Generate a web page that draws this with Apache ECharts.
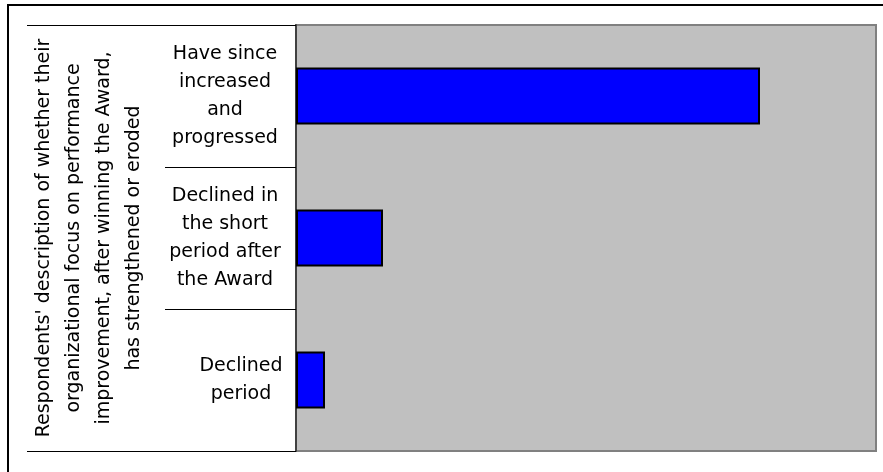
<!DOCTYPE html>
<html>
<head>
<meta charset="utf-8">
<script src="https://cdn.jsdelivr.net/npm/echarts@6/dist/echarts.min.js"></script>
<style>
  html, body { margin: 0; padding: 0; background: #fff; }
  #chart { width: 883px; height: 472px; }
</style>
</head>
<body>
<div id="chart"></div>
<script>
// categories (top to bottom) and bar values
const categories = [
  'Have since\nincreased\nand\nprogressed',
  'Declined in\nthe short\nperiod after\nthe Award',
  'Declined\nperiod'
];
const values = [80, 15, 5];
const axisTitle = "Respondents' description of whether their\norganizational focus on performance\nimprovement, after winning the Award,\nhas strengthened or eroded";

const FONT = 'DejaVu Sans';

const myChart = echarts.init(document.getElementById('chart'));

const labelStyle = {
  align: 'center',
  color: '#000',
  fontFamily: FONT,
  fontSize: 19,
  lineHeight: 28
};

const option = {
  animation: false,
  backgroundColor: '#fff',
  textStyle: { fontFamily: FONT },
  // outer chart frame
  graphic: [{
    type: 'rect',
    z: -10,
    shape: { x: 8, y: 5, width: 900, height: 500 },
    style: { fill: 'none', stroke: '#000', lineWidth: 2 }
  }],
  grid: {
    left: 296,
    right: 7,
    top: 25,
    bottom: 21,
    outerBoundsMode: 'none',
    containLabel: false,
    show: true,
    backgroundColor: '#C0C0C0',
    borderColor: '#808080',
    borderWidth: 2
  },
  xAxis: {
    type: 'value',
    min: 0,
    max: 100,
    axisLine: { show: false },
    axisTick: { show: false },
    axisLabel: { show: false },
    splitLine: { show: false }
  },
  yAxis: [
    {
      type: 'category',
      position: 'left',
      inverse: true,
      data: categories.map((c, i) => i === 2
        ? { value: c, textStyle: Object.assign({}, labelStyle, { padding: [0, 0, 0, 32] }) }
        : c),
      axisLine: { show: true, lineStyle: { color: '#404040', width: 2 } },
      axisTick: { show: true, length: 131, lineStyle: { color: '#000', width: 1 } },
      axisLabel: Object.assign({ margin: 71 }, labelStyle),
      name: axisTitle,
      nameLocation: 'middle',
      nameRotate: 90,
      nameGap: 147,
      nameMoveOverlap: false,
      nameTextStyle: {
        color: '#000',
        fontFamily: FONT,
        fontSize: 19,
        lineHeight: 30,
        align: 'center'
      }
    },
    {
      // long lines at top and bottom of the label column
      type: 'value',
      position: 'left',
      min: 0,
      max: 1,
      interval: 1,
      axisLine: { show: false },
      axisTick: { show: true, length: 269, lineStyle: { color: '#000', width: 1 } },
      axisLabel: { show: false },
      splitLine: { show: false }
    }
  ],
  series: [{
    type: 'bar',
    yAxisIndex: 0,
    data: values,
    barWidth: '40%',
    itemStyle: {
      color: '#0000FF',
      borderColor: '#000',
      borderWidth: 2
    }
  }]
};

myChart.setOption(option);
</script>
</body>
</html>
